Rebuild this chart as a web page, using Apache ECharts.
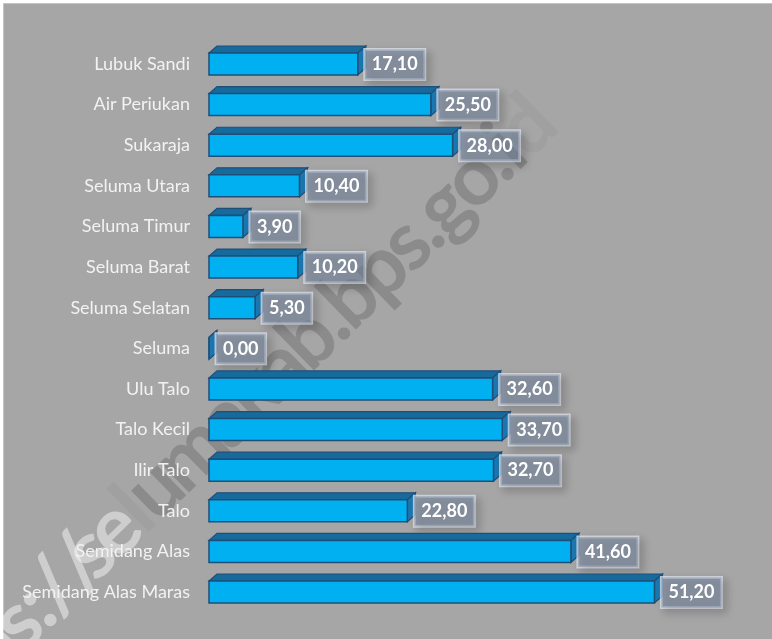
<!DOCTYPE html>
<html>
<head>
<meta charset="utf-8">
<script src="https://cdn.jsdelivr.net/npm/echarts@6/dist/echarts.min.js"></script>
<style>
  html, body { margin: 0; padding: 0; background: #ffffff; }
  #chart { width: 772px; height: 639px; }
</style>
</head>
<body>
<div id="chart"></div>
<script>
  // kecamatan (top to bottom)
  var categories = ['Lubuk Sandi', 'Air Periukan', 'Sukaraja', 'Seluma Utara', 'Seluma Timur',
    'Seluma Barat', 'Seluma Selatan', 'Seluma', 'Ulu Talo', 'Talo Kecil', 'Ilir Talo', 'Talo',
    'Semidang Alas', 'Semidang Alas Maras'];
  var values = [17.10, 25.50, 28.00, 10.40, 3.90, 10.20, 5.30, 0.00, 32.60, 33.70, 32.70, 22.80, 41.60, 51.20];
  var watermark = 'https://selumakab.bps.go.id';

  var chart = echarts.init(document.getElementById('chart'));

  var barH = 22, depthX = 8, depthY = 7;

  function renderBar(params, api) {
    var idx = api.value(1);
    var end = api.coord([api.value(0), idx]);
    var start = api.coord([0, idx]);
    var x0 = start[0], x1 = end[0];
    var yT = end[1] - barH / 2, yB = end[1] + barH / 2;
    var stroke = '#1f4e79';
    var txt = values[params.dataIndex].toFixed(2).replace('.', ',');
    return {
      type: 'group',
      children: [
        {
          type: 'polygon',
          shape: { points: [[x0, yT], [x0 + depthX, yT - depthY], [x1 + depthX, yT - depthY], [x1, yT]] },
          style: { fill: '#176a9c', stroke: stroke, lineWidth: 1.2 }
        },
        {
          type: 'polygon',
          shape: { points: [[x1, yT], [x1 + depthX, yT - depthY], [x1 + depthX, yB - depthY], [x1, yB]] },
          style: { fill: '#1b78b0', stroke: stroke, lineWidth: 1.2 }
        },
        {
          type: 'rect',
          shape: { x: x0, y: yT, width: x1 - x0, height: barH },
          style: { fill: '#00b0f0', stroke: stroke, lineWidth: 1.5 }
        },
        {
          type: 'text',
          x: x1 + 7,
          y: end[1] + 0.5,
          style: {
            text: txt,
            fill: '#ffffff',
            font: 'bold 18px Lato',
            verticalAlign: 'middle',
            align: 'left',
            padding: [6, 7, 6, 7],
            backgroundColor: 'rgba(118,138,166,0.5)',
            borderColor: 'rgba(225,230,238,0.75)',
            borderWidth: 1.5,
            shadowColor: 'rgba(0,0,0,0.28)',
            shadowBlur: 8,
            shadowOffsetX: 4,
            shadowOffsetY: 4
          }
        }
      ]
    };
  }

  var data = values.map(function (v, i) { return [v, i]; });

  var option = {
    animation: false,
    backgroundColor: 'transparent',
    grid: { left: 209, right: 41, top: 43.7, bottom: 26.7 },
    xAxis: {
      type: 'value', min: 0, max: 60,
      show: false
    },
    yAxis: {
      type: 'category',
      data: categories,
      inverse: true,
      axisLine: { show: false },
      axisTick: { show: false },
      axisLabel: { color: '#f2f2f2', fontSize: 18, fontFamily: 'Lato', margin: 19 }
    },
    series: [{
      type: 'custom',
      renderItem: renderBar,
      encode: { x: 0, y: 1 },
      data: data,
      z: 3
    }]
  };
  chart.setOption(option);

  // background box, 3D axis wall and watermark
  var top = chart.convertToPixel({ yAxisIndex: 0 }, categories[0]) - 20.3;
  var bottom = chart.convertToPixel({ yAxisIndex: 0 }, categories[categories.length - 1]) + 20.3;
  var xz = chart.convertToPixel({ xAxisIndex: 0 }, 0);

  // watermark laid out char by char so it can fade from light to dark
  var ctx = document.createElement('canvas').getContext('2d');
  ctx.font = 'bold 100px Lato';
  function pre(n) { return ctx.measureText(watermark.slice(0, n)).width; }
  var sC = pre(4) + ctx.measureText('s').width / 2;
  var iC = pre(25) + ctx.measureText('i').width / 2;
  var wmSize = 100 * 682 / (iC - sC);
  ctx.font = 'bold ' + wmSize + 'px Lato';
  sC = pre(4) + ctx.measureText('s').width / 2;
  var glyph = wmSize * 1.12;
  var wmChars = [];
  for (var k = 0; k < watermark.length; k++) {
    var col;
    if (k <= 9) col = 'rgba(255,255,255,0.45)';
    else if (k === 10) col = 'rgba(150,150,150,0.35)';
    else if (k === watermark.length - 1) col = 'rgba(60,60,60,0.06)';
    else col = 'rgba(60,60,60,0.25)';
    var cw = ctx.measureText(watermark[k]).width;
    wmChars.push({
      type: 'text', z: -2,
      x: pre(k) + cw / 2 - sC, y: 4,
      style: {
        text: watermark[k], font: 'bold ' + glyph + 'px Lato',
        verticalAlign: 'middle', align: 'center', fill: col
      }
    });
  }

  chart.setOption({
    graphic: [
      {
        type: 'rect', z: -10,
        shape: { x: 3.5, y: 3.5, width: 772, height: 640 },
        style: { fill: '#a6a6a6', stroke: '#c4c4c4', lineWidth: 1 }
      },
      {
        type: 'polygon', z: -5,
        shape: { points: [[xz, top + 4], [xz + 9, top - 3], [xz + 9, bottom - 8], [xz, bottom]] },
        style: { fill: '#9a9a9a' }
      },
      {
        type: 'group', z: -2,
        x: 15, y: 620,
        rotation: 44.3 * Math.PI / 180,
        children: wmChars
      }
    ]
  });
</script>
</body>
</html>
